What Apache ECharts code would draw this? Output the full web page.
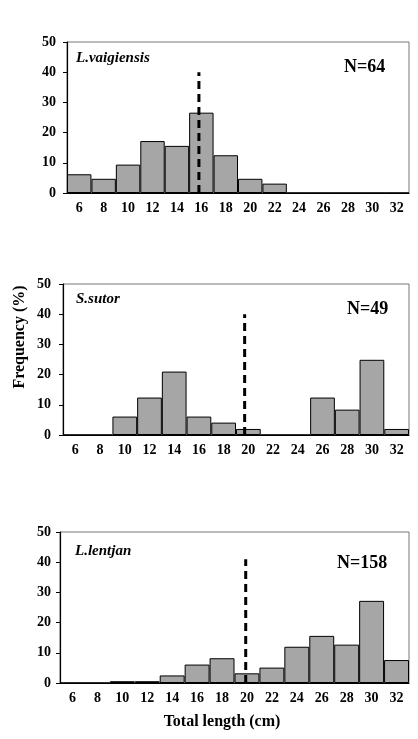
<!DOCTYPE html>
<html>
<head>
<meta charset="utf-8">
<script src="https://cdn.jsdelivr.net/npm/echarts@6/dist/echarts.min.js"></script>
<style>
  html, body { margin: 0; padding: 0; background: #fff; }
  #main { width: 418px; height: 739px; }
</style>
</head>
<body>
<div id="main"></div>
<script>
// length classes (cm)
const lengthClasses = ['6', '8', '10', '12', '14', '16', '18', '20', '22', '24', '26', '28', '30', '32'];

// frequency (%) per length class
const vaigiensis = [6.2, 4.7, 9.4, 17.2, 15.6, 26.6, 12.5, 4.7, 3.1, 0, 0, 0, 0, 0];
const sutor = [0, 0, 6.1, 12.4, 21.0, 6.1, 4.1, 2.0, 0, 0, 12.4, 8.4, 24.9, 2.0];
const lentjan = [0, 0, 0.6, 0.6, 2.5, 6.1, 8.2, 3.2, 5.1, 12.0, 15.6, 12.7, 27.2, 7.6];

// dashed reference line (length at maturity), [x, y] pairs
const lineVaigiensis = [[15.8, 0], [15.8, 40]];
const lineSutor = [[19.7, 0], [19.7, 40]];
const lineLentjan = [[19.9, 0], [19.9, 41]];

const species = ['L.vaigiensis', 'S.sutor', 'L.lentjan'];
const counts = ['N=64', 'N=49', 'N=158'];

const font = 'Liberation Serif';
const panels = [
  { top: 42, left: 67, data: vaigiensis, line: lineVaigiensis, ylm: 11 },
  { top: 284, left: 63, data: sutor, line: lineSutor, ylm: 12 },
  { top: 532, left: 60, data: lentjan, line: lineLentjan, ylm: 9 }
];

const grid = [], xAxis = [], yAxis = [], series = [];
panels.forEach((p, i) => {
  grid.push({
    left: p.left, right: 9, top: p.top, height: 151,
    show: true, borderColor: '#777', borderWidth: 1
  });
  xAxis.push({
    type: 'category', gridIndex: i, data: lengthClasses,
    axisLine: { lineStyle: { color: '#000', width: 1.2 } },
    axisTick: { length: 4, lineStyle: { color: '#000' } },
    axisLabel: { color: '#000', fontFamily: font, fontWeight: 'bold', fontSize: 14, margin: 8 }
  });
  // hidden value axis for the dashed marker line
  xAxis.push({
    type: 'value', gridIndex: i, min: 5, max: 33, show: false
  });
  yAxis.push({
    type: 'value', gridIndex: i, min: 0, max: 50, interval: 10,
    splitLine: { show: false },
    axisLine: { show: true, lineStyle: { color: '#000', width: 1.2 } },
    axisTick: { show: true, length: 4, lineStyle: { color: '#000' } },
    axisLabel: { color: '#000', fontFamily: font, fontWeight: 'bold', fontSize: 14, margin: p.ylm }
  });
  series.push({
    type: 'bar', xAxisIndex: i * 2, yAxisIndex: i,
    data: p.data, barWidth: '100%', barGap: 0,
    itemStyle: { color: '#a6a6a6', borderColor: '#000', borderWidth: 1 },
    silent: true
  });
  series.push({
    type: 'line', xAxisIndex: i * 2 + 1, yAxisIndex: i,
    data: p.line, symbol: 'none', z: 5,
    lineStyle: { color: '#000', width: 3, type: [8, 5] },
    silent: true
  });
});

const textStyle = (t, size, italic) => ({
  text: t, fill: '#000', font: (italic ? 'italic ' : '') + 'bold ' + size + 'px "' + font + '"'
});

const graphic = [
  { type: 'text', left: 76, top: 51, style: textStyle(species[0], 15, true) },
  { type: 'text', left: 76, top: 292, style: textStyle(species[1], 15, true) },
  { type: 'text', left: 75, top: 544, style: textStyle(species[2], 15, true) },
  { type: 'text', left: 344, top: 58, style: textStyle(counts[0], 18, false) },
  { type: 'text', left: 347, top: 300, style: textStyle(counts[1], 18, false) },
  { type: 'text', left: 337, top: 554, style: textStyle(counts[2], 18, false) },
  {
    type: 'text', x: 20, y: 337, rotation: Math.PI / 2,
    style: Object.assign(textStyle('Frequency (%)', 16, false), { align: 'center', verticalAlign: 'middle' })
  },
  {
    type: 'text', x: 222, y: 722,
    style: Object.assign(textStyle('Total length (cm)', 16, false), { align: 'center', verticalAlign: 'middle' })
  }
];

const chart = echarts.init(document.getElementById('main'));
chart.setOption({
  animation: false,
  grid: grid,
  xAxis: xAxis,
  yAxis: yAxis,
  series: series,
  graphic: graphic
});
</script>
</body>
</html>
